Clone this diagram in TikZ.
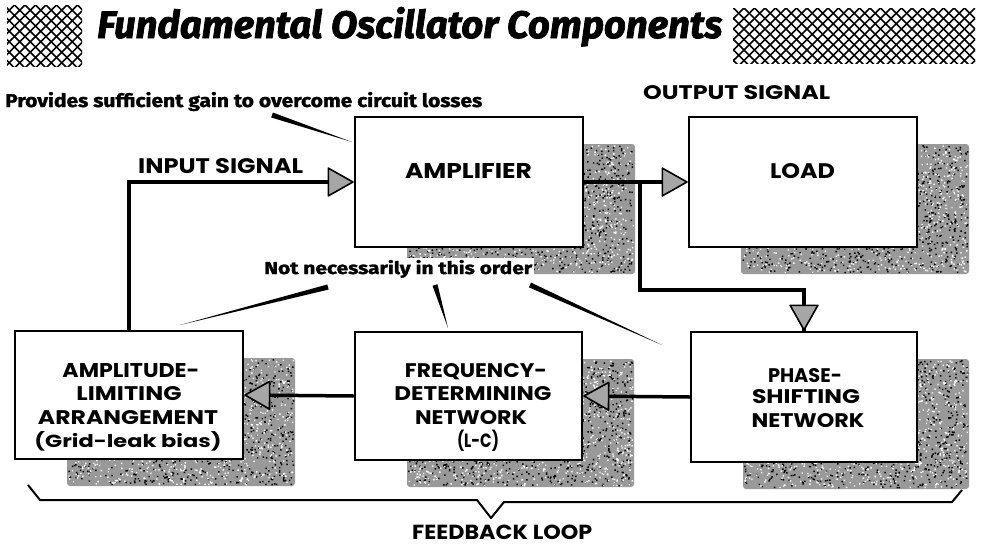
\documentclass[tikz,border=0pt]{standalone}
\usepackage{fontspec}
\usepackage{graphicx}
\usetikzlibrary{arrows.meta,calc}
\newfontfamily\titlefont{Fira Sans}[BoldItalicFeatures={FakeBold=2}]
\newfontfamily\handfont{Fira Sans}[BoldFeatures={FakeBold=1.5}]
\newfontfamily\lblfont{Poppins}
\newcommand\fitbox[3]{\resizebox{#1pt}{#2pt}{#3}}
\newcommand\stipple[4]{%
  \fill[black!40, rounded corners=3pt] (#1,#2) rectangle (#3,#4);
  \fill[black] \foreach \k in {1,...,1000}{ ({#1+1+rnd*(#3-#1-3)},{#2+1+rnd*(#4-#2-3)}) rectangle ++(1.5,1.5) };
  \fill[white] \foreach \k in {1,...,1000}{ ({#1+1+rnd*(#3-#1-3)},{#2+1+rnd*(#4-#2-3)}) rectangle ++(1.4,1.4) };
}
\newcommand\ptrwedge[5]{%
  \fill ($(#1,#2)!#5!90:(#3,#4)$) -- ($(#1,#2)!#5!-90:(#3,#4)$) -- (#3,#4) -- cycle;%
}
\begin{document}
\begin{tikzpicture}[x=1pt,y=-1pt,
  box/.style={draw, line width=2.5pt, fill=white, inner sep=0pt},
  conn/.style={line width=3.5pt},
  arr/.style={conn, -{Triangle[length=27pt,width=30pt,fill=black!35,line width=1.6pt,round]}},
  lbl/.style={anchor=base, inner sep=0pt, font=\lblfont\bfseries},
  hand/.style={anchor=base west, inner sep=0pt, font=\handfont\bfseries},
  hatch/.style={line width=1.6pt},
  brace/.style={line width=2pt, line join=round}
]
\useasboundingbox (0,0) rectangle (981,546);
\pgfmathsetseed{11}

% title hatches
\begin{scope}
  \clip (7,5) rectangle (82,66);
  \foreach \c in {-80,-69.5,...,170} {
    \draw[hatch] (\c,5) -- ++(75,75);
    \draw[hatch] (\c,5) -- ++(-75,75);
  }
\end{scope}
\begin{scope}
  \clip (733,8) rectangle (975,63);
  \foreach \c in {660,670.5,...,1060} {
    \draw[hatch] (\c,8) -- ++(70,70);
    \draw[hatch] (\c,8) -- ++(-70,70);
  }
\end{scope}
\node[anchor=base west, inner sep=0pt, font=\titlefont\bfseries\itshape] (title) at (97,38)
  {\fitbox{625}{31}{Fundamental Oscillator Components}};

% shadows
\stipple{407}{144}{635}{274}
\stipple{741}{144}{969}{274}
\stipple{67}{358}{295}{486}
\stipple{407}{359}{634}{487}
\stipple{743}{359}{969}{489}

% boxes
\node[box, minimum width=228pt, minimum height=130pt] (amp) at (469,182) {};
\node[box, minimum width=228pt, minimum height=130pt] (load) at (803,182) {};
\node[box, minimum width=228pt, minimum height=128pt] (alim) at (129,395) {};
\node[box, minimum width=227pt, minimum height=128pt] (freq) at (468.5,396) {};
\node[box, minimum width=226pt, minimum height=130pt] (phase) at (804,397) {};

% connectors
\coordinate (br) at (640,182);
\coordinate (bend) at (640,290);
\draw[arr] (alim.north) |- (amp.west);
\draw[arr] (amp.east) -- (load.west);
\draw[conn, line join=miter] (br) -- (bend) -| ([yshift=-2pt]phase.north);
\draw[arr] (bend -| phase.north) -- (phase.north);
\draw[arr] (phase.west) -- (freq.east);
\draw[arr] (freq.west) -- (alim.east);

% box labels
\node[lbl] (ampt) at (468.5,178) {\fitbox{127}{15}{AMPLIFIER}};
\node[lbl] (loadt) at (802.5,178) {\fitbox{65}{15}{LOAD}};
\node[lbl] (alim1) at (131,377) {\fitbox{137}{14}{AMPLITUDE-}};
\node[lbl] (alim2) at (129,400) {\fitbox{105}{14}{LIMITING}};
\node[lbl] (alim3) at (128,424) {\fitbox{180}{14}{ARRANGEMENT}};
\node[lbl] (alim4) at (128,447) {\fitbox{187}{16}{(Grid-leak bias)}};
\node[lbl] (freq1) at (476,377) {\fitbox{142}{14}{FREQUENCY-}};
\node[lbl] (freq2) at (473,400) {\fitbox{157}{14}{DETERMINING}};
\node[lbl] (freq3) at (471,424) {\fitbox{112}{14}{NETWORK}};
\node[lbl] (freq4) at (478,447) {\fitbox{42}{17.5}{(L-C)}};
\node[lbl] (ph1) at (805,382) {\fitbox{74}{14}{PHASE-}};
\node[lbl] (ph2) at (806,403) {\fitbox{108}{14}{SHIFTING}};
\node[lbl] (ph3) at (808,427) {\fitbox{113}{14}{NETWORK}};

% signal labels
\node[lbl, anchor=base west] (inp) at (138,173) {\fitbox{165}{15}{INPUT SIGNAL}};
\node[lbl, anchor=base west] (outp) at (643,99) {\fitbox{187}{14}{OUTPUT SIGNAL}};
\node[lbl, anchor=base west] (fb) at (412,539) {\fitbox{180}{14.5}{FEEDBACK LOOP}};

% annotations
\node[hand] (prov) at (5,107) {\fitbox{477}{15}{Provides sufficient gain to overcome circuit losses}};
\node[hand, fill=white, inner sep=2pt] (order) at (262,274) {\fitbox{268}{14}{Not necessarily in this order}};
\ptrwedge{272}{115}{352}{142}{2.6pt}
\ptrwedge{328}{287}{180}{325}{2.6pt}
\ptrwedge{435}{285}{448}{328}{2.6pt}
\ptrwedge{530}{285}{662}{345}{2.6pt}

% feedback brace
\draw[brace] (28,485) -- (40,500) -- (477,500) -- (491,518) -- (504,502) -- (952,502) -- (962,490);
\end{tikzpicture}
\end{document}
